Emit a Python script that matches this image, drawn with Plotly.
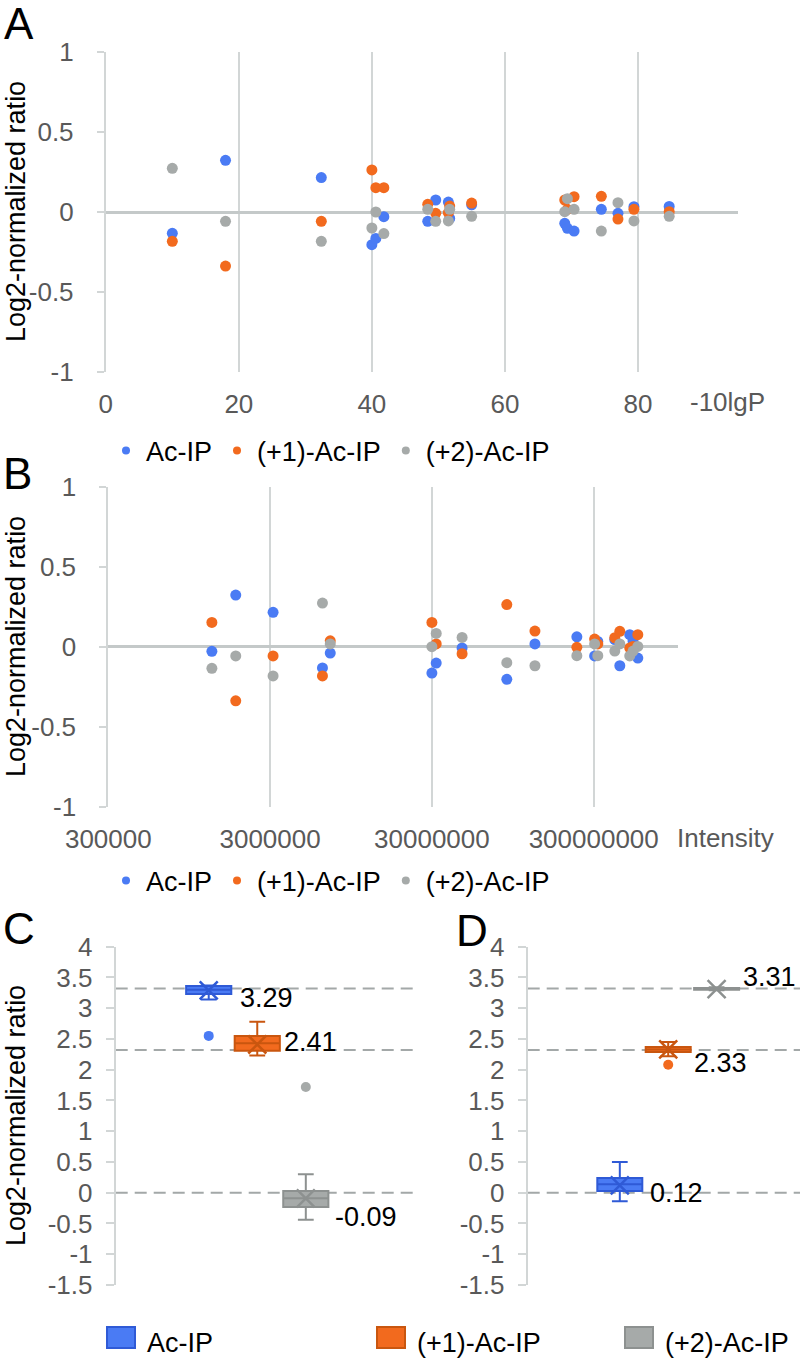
import math
import plotly.graph_objects as go

# ---------------- data: panels A and B (18 peptides) ----------------
series_names = ["Ac-IP", "(+1)-Ac-IP", "(+2)-Ac-IP"]
score_10lgP = [10.0, 18.0, 32.4, 40.0, 40.6, 41.8, 48.4, 49.6, 51.5, 51.7,
               55.0, 69.0, 69.4, 70.4, 74.5, 77.0, 79.4, 84.7]
intensity = [6.32e6, 1.84e6, 3.13e6, 8.71e7, 3.00e7, 1.31e6, 3.04e8, 5.01e8, 2.36e8, 7.06e6,
             4.05e8, 5.62e8, 3.19e7, 4.35e8, 1.30e8, 4.61e7, 3.18e8, 5.25e8]
ratio_ac = [-0.133, 0.323, 0.215, -0.204, -0.165, -0.029, -0.058, 0.075, 0.062, -0.040,
            0.045, -0.071, -0.102, -0.119, 0.017, -0.008, 0.033, 0.035]
ratio_p1 = [-0.183, -0.338, -0.058, 0.263, 0.152, 0.152, 0.048, -0.008, -0.004, 0.037,
            0.056, 0.075, 0.017, 0.096, 0.098, -0.044, 0.017, 0.002]
ratio_p2 = [0.273, -0.058, -0.183, -0.100, 0.000, -0.135, 0.017, -0.058, -0.056, 0.017,
            -0.027, 0.002, 0.083, 0.017, -0.119, 0.058, -0.056, -0.027]

ab_y_ticks = [-1, -0.5, 0, 0.5, 1]
ab_y_ticktext = ["-1", "-0.5", "0", "0.5", "1"]
a_x_ticks = [0, 20, 40, 60, 80]
b_x_ticks = [3e5, 3e6, 3e7, 3e8]
b_x_ticktext = ["300000", "3000000", "30000000", "300000000"]

# ---------------- data: panels C and D (box summaries) ----------------
c_q1 = [3.23, 2.31, -0.23]
c_median = [3.30, 2.43, -0.09]
c_q3 = [3.36, 2.55, 0.03]
c_low = [3.14, 2.23, -0.44]
c_high = [3.37, 2.78, 0.30]
c_mean = [3.29, 2.41, -0.09]
c_outliers = [[2.55], [], [1.72]]

d_q1 = [0.03, 2.29, 3.30]
d_median = [0.14, 2.33, 3.31]
d_q3 = [0.24, 2.37, 3.33]
d_low = [-0.14, 2.22, 3.29]
d_high = [0.50, 2.45, 3.34]
d_mean = [0.12, 2.33, 3.31]
d_outliers = [[], [2.08], []]

expected_ratio = [10, 5, 1]
cd_y_ticks = [-1.5, -1, -0.5, 0, 0.5, 1, 1.5, 2, 2.5, 3, 3.5, 4]
cd_y_ticktext = ["-1.5", "-1", "-0.5", "0", "0.5", "1", "1.5", "2", "2.5", "3", "3.5", "4"]

# ---------------- styling ----------------
W, H = 800, 1360
FONT = "Liberation Sans, Arial, sans-serif"
TICK_COLOR = "#595959"
AXIS_COLOR = "#d2d6d6"
ZERO_COLOR = "#c4c9c9"
dot_colors = ["#4a7bf4", "#f26a1e", "#a6aaa9"]
box_fill = ["#4a7bf4", "#f26a1e", "#a6aaa9"]
box_line = ["#2f5ad6", "#c9560f", "#8d9190"]
positions = [0, 1, 2]
c_label_shift = [(29, -8), (25, 3), (27, -19)]
d_label_shift = [(28, -8), (24, -14), (24, 12)]


def px(x):
    return x / W


def py(y):
    return 1 - y / H


fig = go.Figure()

ratios = [ratio_ac, ratio_p1, ratio_p2]
for i, name in enumerate(series_names):
    fig.add_trace(go.Scatter(x=score_10lgP, y=ratios[i], mode="markers", name=name,
                             marker=dict(size=11, color=dot_colors[i]),
                             xaxis="x", yaxis="y", showlegend=False))
    fig.add_trace(go.Scatter(x=intensity, y=ratios[i], mode="markers", name=name,
                             marker=dict(size=11, color=dot_colors[i]),
                             xaxis="x2", yaxis="y2", showlegend=False))
    # legend-only entries
    fig.add_trace(go.Scatter(x=[None], y=[None], mode="markers", name=name,
                             marker=dict(size=8, color=dot_colors[i]),
                             xaxis="x", yaxis="y", legend="legend"))
    fig.add_trace(go.Scatter(x=[None], y=[None], mode="markers", name=name,
                             marker=dict(size=8, color=dot_colors[i]),
                             xaxis="x2", yaxis="y2", legend="legend2"))

annotations = []


def add_boxes(xa, ya, q1, med, q3, lo, hi, mean, outl, shifts):
    for i, name in enumerate(series_names):
        fig.add_trace(go.Box(x=[positions[i]], q1=[q1[i]], median=[med[i]], q3=[q3[i]],
                             lowerfence=[lo[i]], upperfence=[hi[i]], width=0.93,
                             whiskerwidth=0.35, fillcolor=box_fill[i],
                             line=dict(color=box_line[i], width=2), boxpoints=False,
                             name=name, xaxis=xa, yaxis=ya, showlegend=False))
        fig.add_trace(go.Scatter(x=[positions[i]], y=[mean[i]], mode="markers",
                                 marker=dict(symbol="x-thin", size=18,
                                             line=dict(color=box_line[i], width=2.5)),
                                 xaxis=xa, yaxis=ya, showlegend=False))
        if outl[i]:
            fig.add_trace(go.Scatter(x=[positions[i]] * len(outl[i]), y=outl[i], mode="markers",
                                     marker=dict(size=10, color=box_fill[i]),
                                     xaxis=xa, yaxis=ya, showlegend=False))
        annotations.append(dict(x=positions[i], y=mean[i], xref=xa, yref=ya,
                                text=f"{mean[i]:.2f}", showarrow=False,
                                xanchor="left", yanchor="middle",
                                xshift=shifts[i][0], yshift=shifts[i][1],
                                font=dict(family=FONT, size=27, color="black")))


add_boxes("x3", "y3", c_q1, c_median, c_q3, c_low, c_high, c_mean, c_outliers, c_label_shift)
add_boxes("x4", "y4", d_q1, d_median, d_q3, d_low, d_high, d_mean, d_outliers, d_label_shift)

shapes = []
for r in expected_ratio:
    for xa, ya in (("x3", "y3"), ("x4", "y4")):
        shapes.append(dict(type="line", xref=f"{xa} domain", yref=ya, x0=0, x1=1,
                           y0=math.log2(r), y1=math.log2(r), layer="below",
                           line=dict(color="#a3a8a8", width=2, dash="12px,7px")))

# bottom legend for box panels
legend_sq_x = [107, 377, 625]
for i, name in enumerate(series_names):
    shapes.append(dict(type="rect", xref="paper", yref="paper",
                       x0=px(legend_sq_x[i]), x1=px(legend_sq_x[i] + 28),
                       y0=py(1348), y1=py(1327), fillcolor=box_fill[i],
                       line=dict(color=box_line[i], width=2)))
    annotations.append(dict(x=px(legend_sq_x[i] + 38), y=py(1343), xref="paper", yref="paper",
                            text=name, showarrow=False, xanchor="left", yanchor="middle",
                            font=dict(family=FONT, size=27, color="black")))

# panel letters
for letter, (lx, ly) in zip("ABCD", [(19, 23), (17, 473), (19, 928), (472, 930)]):
    annotations.append(dict(x=px(lx), y=py(ly), xref="paper", yref="paper", text=letter,
                            showarrow=False, xanchor="center", yanchor="middle",
                            font=dict(family=FONT, size=44, color="black")))

# y-axis titles
for cy in (212, 647, 1116):
    annotations.append(dict(x=px(16), y=py(cy), xref="paper", yref="paper",
                            text="Log2-normalized ratio", textangle=-90, showarrow=False,
                            xanchor="center", yanchor="middle",
                            font=dict(family=FONT, size=27, color="black")))

# x-axis unit labels
annotations.append(dict(x=px(688), y=py(402), xref="paper", yref="paper", text="-10lgP",
                        showarrow=False, xanchor="left", yanchor="middle",
                        font=dict(family=FONT, size=26, color=TICK_COLOR)))
annotations.append(dict(x=px(675), y=py(838), xref="paper", yref="paper", text="Intensity",
                        showarrow=False, xanchor="left", yanchor="middle",
                        font=dict(family=FONT, size=26, color=TICK_COLOR)))

tickfont = dict(family=FONT, size=26, color=TICK_COLOR)

yaxis_common = dict(showgrid=False, showline=True, linecolor=AXIS_COLOR, linewidth=2,
                    ticks="outside", tickcolor=AXIS_COLOR, tickwidth=2, tickfont=tickfont,
                    fixedrange=True, automargin=False)

fig.update_layout(
    template="none",
    width=W, height=H, margin=dict(l=0, r=0, t=0, b=0, pad=0, autoexpand=False),
    paper_bgcolor="white", plot_bgcolor="white",
    font=dict(family=FONT),
    xaxis=dict(domain=[px(105.8), px(737.7)], anchor="y", range=[0, 95],
               tickvals=a_x_ticks, showgrid=True, gridcolor=AXIS_COLOR, gridwidth=2,
               zeroline=False, showline=False, ticks="", tickfont=tickfont,
               ticklabelstandoff=14, automargin=False, fixedrange=True),
    yaxis=dict(domain=[py(372), py(52)], anchor="x", range=[-1, 1], tickvals=ab_y_ticks,
               ticktext=ab_y_ticktext, zeroline=True, zerolinecolor=ZERO_COLOR,
               zerolinewidth=2.5, ticklen=7, ticklabelstandoff=18, **yaxis_common),
    xaxis2=dict(domain=[px(108.3), px(678.3)], anchor="y2", type="log",
                range=[math.log10(3e5), 9], tickvals=b_x_ticks, ticktext=b_x_ticktext,
                showgrid=True, gridcolor=AXIS_COLOR, gridwidth=2, zeroline=False,
                showline=False, ticks="", tickfont=tickfont, ticklabelstandoff=14,
                automargin=False, fixedrange=True),
    yaxis2=dict(domain=[py(806.7), py(486.7)], anchor="x2", range=[-1, 1], tickvals=ab_y_ticks,
                ticktext=ab_y_ticktext, zeroline=True, zerolinecolor=ZERO_COLOR,
                zerolinewidth=2.5, ticklen=7, ticklabelstandoff=18, **yaxis_common),
    xaxis3=dict(domain=[px(115.7), px(413)], anchor="y3", range=[-1.916, 4.208],
                visible=False, automargin=False, fixedrange=True),
    yaxis3=dict(domain=[py(1285), py(946.7)], anchor="x3", range=[-1.5, 4],
                tickvals=cd_y_ticks, ticktext=cd_y_ticktext, zeroline=False, ticklen=8,
                ticklabelstandoff=8, **yaxis_common),
    xaxis4=dict(domain=[px(527.7), 1.0], anchor="y4", range=[-1.903, 3.723], visible=False,
                automargin=False, fixedrange=True),
    yaxis4=dict(domain=[py(1285), py(946.7)], anchor="x4", range=[-1.5, 4],
                tickvals=cd_y_ticks, ticktext=cd_y_ticktext, zeroline=False, ticklen=8,
                ticklabelstandoff=8, **yaxis_common),
    legend=dict(orientation="h", x=px(106), y=py(451), xanchor="left", yanchor="middle",
                font=dict(family=FONT, size=27, color="black"), bgcolor="rgba(0,0,0,0)",
                itemwidth=30),
    legend2=dict(orientation="h", x=px(106), y=py(881), xanchor="left", yanchor="middle",
                 font=dict(family=FONT, size=27, color="black"), bgcolor="rgba(0,0,0,0)",
                 itemwidth=30),
    shapes=shapes,
    annotations=annotations,
)

fig.write_html("out.html", config={"displayModeBar": False},
               post_script="document.body.style.margin='0';document.body.style.overflow='hidden';")
